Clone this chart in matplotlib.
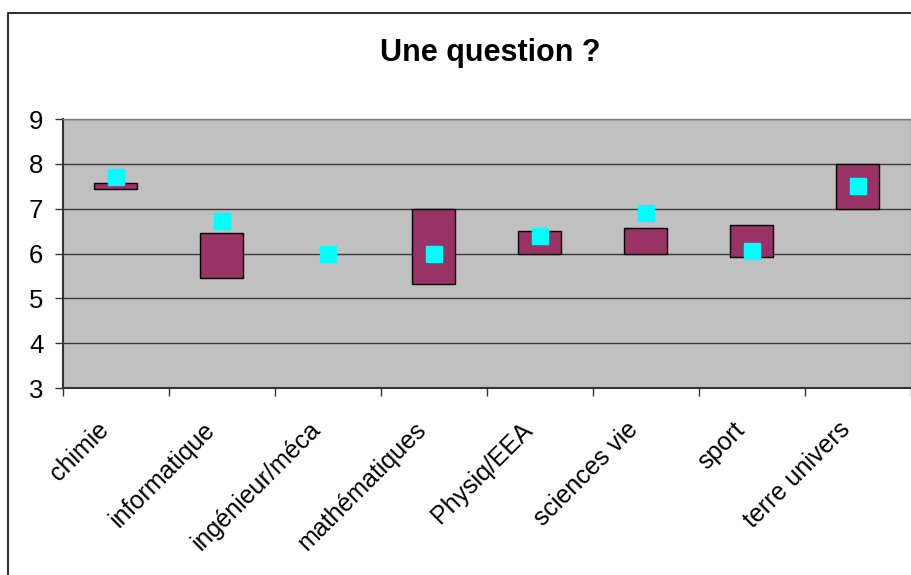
import matplotlib.pyplot as plt
from matplotlib.lines import Line2D
from matplotlib.transforms import ScaledTranslation
import numpy as np

# Categories and the range / mean per category
categories = ["chimie", "informatique", "ingénieur/méca", "mathématiques",
              "Physiq/EEA", "sciences vie", "sport", "terre univers"]
low = [7.43, 5.45, 6.0, 5.32, 6.0, 6.0, 5.93, 7.0]
high = [7.57, 6.45, 6.0, 7.0, 6.5, 6.56, 6.64, 8.0]
mean = [7.70, 6.72, 6.0, 6.0, 6.39, 6.90, 6.05, 7.5]

plt.rcParams['font.family'] = ['Liberation Sans', 'DejaVu Sans']

fig = plt.figure(figsize=(9.11, 5.75), dpi=100)
ax = fig.add_axes([62.7 / 911, 187 / 575, 848 / 911, 269 / 575])
ax.set_facecolor('#C0C0C0')

x = np.arange(len(categories))
heights = np.array(high) - np.array(low)

# Floating boxes from low to high (no outline when the range is empty)
edge_w = [1 if h > 0 else 0 for h in heights]
ax.bar(x, heights, bottom=low, width=0.41, color='#993366',
       edgecolor='black', linewidth=edge_w, zorder=3)
# Mean markers
ax.plot(x, mean, linestyle='none', marker='s', markersize=12,
        color='#00FFFF', zorder=4)

ax.set_ylim(3, 9)
ax.set_xlim(-0.5, len(categories) - 0.5)
ax.set_yticks(range(3, 10))
ax.yaxis.grid(True, color='#3a3a3a', linewidth=1)
ax.set_axisbelow(True)

ax.tick_params(axis='y', labelsize=18.5, length=6, width=1, pad=8, color='#333333')
ax.set_xticks(x)
ax.set_xticklabels(categories, rotation=45, ha='right', va='center',
                   rotation_mode='anchor', fontsize=18)
ax.tick_params(axis='x', length=0, pad=26)
ax.set_xticks(np.arange(-0.5, len(categories)), minor=True)
ax.tick_params(axis='x', which='minor', length=6, width=1, color='#333333')

# shift the slanted labels a little to the left of the category centre
shift = ScaledTranslation(-0.11, -0.02, fig.dpi_scale_trans)
for lab in ax.get_xticklabels():
    lab.set_transform(lab.get_transform() + shift)

for side in ['left', 'bottom']:
    ax.spines[side].set_color('#333333')
    ax.spines[side].set_linewidth(1.5)
for side in ['top', 'right']:
    ax.spines[side].set_color('#808080')
    ax.spines[side].set_linewidth(1)

fig.text(490 / 911, 1 - 53 / 575, "Une question ?", fontsize=22,
         fontweight='bold', ha='center', va='center')

# Outer frame of the chart area
fig.add_artist(Line2D([8 / 911, 8 / 911, 1], [0, 1 - 12.5 / 575, 1 - 12.5 / 575],
                      transform=fig.transFigure, color='#333333', linewidth=1.5))

fig.savefig('out.png', dpi=100)
